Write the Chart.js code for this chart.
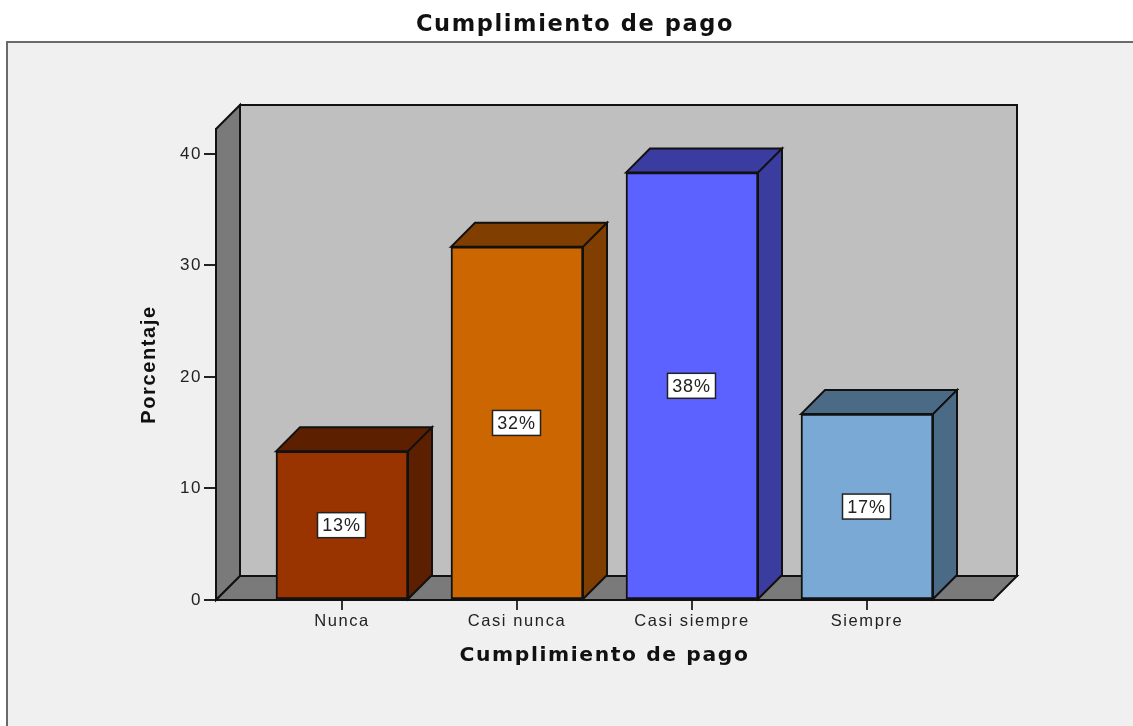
<!DOCTYPE html>
<html>
<head>
<meta charset="utf-8">
<style>html,body{margin:0;padding:0;background:#fff;overflow:hidden}canvas{display:block}</style>
<script src="https://cdn.jsdelivr.net/npm/chart.js@4"></script>
</head>
<body>
<div style="width:1133px;height:726px"><canvas id="c" width="1133" height="726"></canvas></div>
<script>
const titleText = 'Cumplimiento de pago';
const xTitle = 'Cumplimiento de pago';
const yTitle = 'Porcentaje';
const categories = ['Nunca', 'Casi nunca', 'Casi siempre', 'Siempre'];
const values = [13.33, 31.67, 38.33, 16.67];
const valueLabels = ['13%', '32%', '38%', '17%'];
const yTicks = [0, 10, 20, 30, 40];
const frontColors = ['#993300', '#cc6600', '#5c62ff', '#7aa9d6'];
const sideColors = ['#5c1f00', '#803f00', '#3a3d9f', '#4a6a85'];
const DEPTH = 24, INK = '#111';

function poly(ctx, pts, fill, lw) {
  ctx.beginPath();
  pts.forEach((p, i) => i ? ctx.lineTo(p[0], p[1]) : ctx.moveTo(p[0], p[1]));
  ctx.closePath();
  if (fill) { ctx.fillStyle = fill; ctx.fill(); }
  ctx.lineWidth = lw || 2; ctx.strokeStyle = INK; ctx.lineJoin = 'miter'; ctx.stroke();
}

const scene = {
  id: 'scene',
  beforeDraw(chart) {
    const ctx = chart.ctx, a = chart.chartArea, D = DEPTH;
    ctx.letterSpacing = '1.6px';
    ctx.save();
    ctx.fillStyle = '#f0f0f0';
    ctx.fillRect(7, 42, chart.width, chart.height);
    ctx.strokeStyle = '#6a6a6a'; ctx.lineWidth = 2;
    ctx.beginPath(); ctx.moveTo(7, chart.height); ctx.lineTo(7, 42); ctx.lineTo(chart.width, 42); ctx.stroke();
    poly(ctx, [[a.left + D, a.top - D], [a.right + D, a.top - D], [a.right + D, a.bottom - D], [a.left + D, a.bottom - D]], '#bfbfbf');
    poly(ctx, [[a.left, a.top], [a.left + D, a.top - D], [a.left + D, a.bottom - D], [a.left, a.bottom]], '#7a7a7a');
    poly(ctx, [[a.left, a.bottom], [a.left + D, a.bottom - D], [a.right + D, a.bottom - D], [a.right, a.bottom]], '#7a7a7a');
    ctx.restore();
  },
  beforeDatasetsDraw(chart) {
    const ctx = chart.ctx, D = DEPTH;
    ctx.save();
    chart.getDatasetMeta(0).data.forEach((b, i) => {
      const l = b.x - b.width / 2, r = b.x + b.width / 2, t = b.y, bt = b.base;
      poly(ctx, [[l, t], [l + D, t - D], [r + D, t - D], [r, t]], sideColors[i]);
      poly(ctx, [[r, t], [r + D, t - D], [r + D, bt - D], [r, bt]], sideColors[i]);
    });
    ctx.restore();
  },
  afterDatasetsDraw(chart) {
    const ctx = chart.ctx;
    ctx.save();
    ctx.letterSpacing = '0.8px';
    chart.getDatasetMeta(0).data.forEach((b, i) => {
      const cx = b.x - 0.5, cy = (b.y + b.base) / 2, w = 48, h = 25;
      ctx.fillStyle = '#fff'; ctx.strokeStyle = '#222'; ctx.lineWidth = 1.5;
      ctx.fillRect(cx - w / 2, cy - h / 2, w, h);
      ctx.strokeRect(cx - w / 2, cy - h / 2, w, h);
      ctx.fillStyle = '#222';
      ctx.font = '18px "Liberation Sans"';
      ctx.textAlign = 'center'; ctx.textBaseline = 'middle';
      ctx.fillText(valueLabels[i], cx, cy + 1);
    });
    ctx.restore();
  }
};

new Chart(document.getElementById('c'), {
  type: 'bar',
  data: {
    datasets: [{
      data: categories.map((c, i) => ({ x: i, y: values[i] })),
      backgroundColor: frontColors,
      borderColor: INK,
      borderWidth: 2,
      borderSkipped: false,
      barThickness: 132
    }]
  },
  plugins: [scene],
  options: {
    responsive: false,
    animation: false,
    layout: { padding: { left: 17, right: 0, top: 0, bottom: 0 } },
    plugins: {
      legend: { display: false },
      tooltip: { enabled: false },
      title: {
        display: true, text: titleText, color: '#111',
        font: { family: '"DejaVu Sans"', size: 22.5, weight: 'bold', lineHeight: 1.2 },
        padding: { top: 12, bottom: 90 }
      }
    },
    scales: {
      x: {
        type: 'linear', min: -0.72, max: 3.72, offset: false,
        afterBuildTicks(ax) { ax.ticks = categories.map((c, i) => ({ value: i })); },
        afterFit(ax) { ax.height = 126; },
        border: { color: INK, width: 2 },
        grid: { offset: false, drawOnChartArea: false, drawTicks: true, tickLength: 10, color: '#333', lineWidth: 2 },
        ticks: {
          autoSkip: false, maxRotation: 0, minRotation: 0, color: '#222', padding: 2,
          font: { family: '"Liberation Sans"', size: 16.5 },
          callback: v => categories[v]
        },
        title: {
          display: true, text: xTitle, color: '#111',
          font: { family: '"DejaVu Sans"', size: 20.3, weight: 'bold', lineHeight: 1.2 },
          padding: { top: 0, bottom: 58 }
        }
      },
      y: {
        min: 0, max: 42.24,
        afterBuildTicks(ax) { ax.ticks = yTicks.map(v => ({ value: v })); },
        afterFit(ax) { ax.width = 199; },
        border: { color: INK, width: 2 },
        grid: { drawOnChartArea: false, drawTicks: true, tickLength: 12, color: '#222', lineWidth: 2 },
        ticks: { color: '#222', padding: 2, font: { family: '"Liberation Sans"', size: 17 } },
        title: {
          display: true, text: yTitle, color: '#111',
          font: { family: '"Liberation Sans"', size: 20, weight: 'bold', lineHeight: 1.2 },
          padding: { top: 120, bottom: 0 }
        }
      },
      spacer: {
        type: 'linear', position: 'right', display: true,
        afterFit(ax) { ax.width = 140; },
        border: { display: false }, grid: { display: false }, ticks: { display: false }
      }
    }
  }
});
</script>
</body>
</html>
